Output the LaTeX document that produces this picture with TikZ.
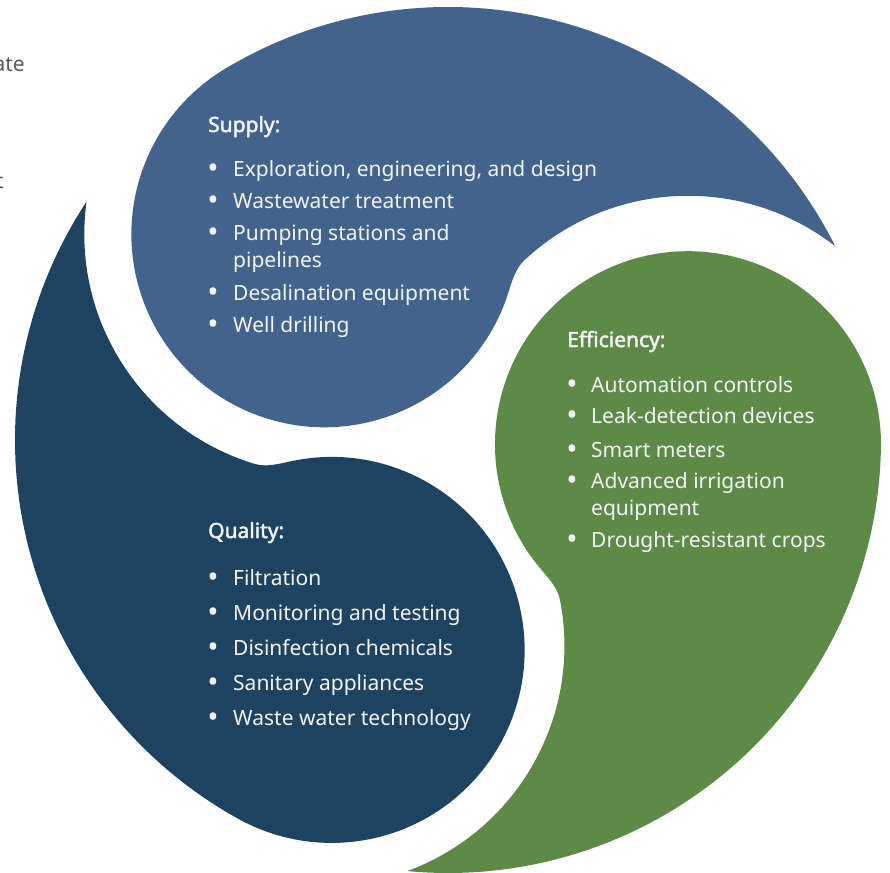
\documentclass[tikz,border=0pt]{standalone}
\usepackage{fontspec}
\setmainfont{Noto Sans}
\newfontfamily\headfont{Noto Sans}[FakeBold=2.2]
\usetikzlibrary{positioning}

\definecolor{supplyblue}{RGB}{66,99,140}
\definecolor{qualityblue}{RGB}{30,67,97}
\definecolor{efficiencygreen}{RGB}{94,138,71}
\definecolor{labelwhite}{RGB}{242,244,246}
\definecolor{pagegray}{RGB}{90,90,90}

\newcommand{\swirlpath}{(0:433pt) arc[start angle=0,end angle=-94.4,radius=433pt]
  arc[start angle=-68.8,end angle=12,radius=240pt]
  .. controls (112.05pt,-145.24pt) and (102.18pt,-135.72pt) .. (93.7pt,-125.86pt)
  arc[start angle=220.7,end angle=0,radius=193pt] -- cycle}

\begin{document}
\begin{tikzpicture}[x=1pt,y=-1pt,
  head/.style={anchor=base west,inner sep=0pt,text=labelwhite,font=\headfont\fontsize{21}{26}\selectfont},
  item/.style={anchor=base west,inner sep=0pt,text=labelwhite,font=\fontsize{21}{26}\selectfont},
  dot/.style={anchor=base,inner sep=0pt,text=labelwhite,font=\fontsize{30}{30}\selectfont},
  margin/.style={anchor=base east,inner sep=0pt,text=pagegray,font=\fontsize{21}{26}\selectfont}]
\useasboundingbox (0,0) rectangle (890,872);
\begin{scope}[shift={(448,440)}]
  \fill[supplyblue,rotate=121] \swirlpath;
  \fill[efficiencygreen,rotate=-1] \swirlpath;
  \fill[qualityblue,rotate=241] \swirlpath;
\end{scope}
\node[margin] (frag1) at (25,72) {ate};
\node[margin] (frag2) at (4,188) {t};

\node[head] (supply) at (208,132) {Supply:};
\foreach \y/\t [count=\i] in {176/{Exploration, engineering, and design},208/{Wastewater treatment},240/{Pumping stations and},300/{Desalination equipment},332/{Well drilling}}{
  \node[dot] (sdot\i) at (213,\y+2) {•};
  \node[item] (sitem\i) at (233,\y) {\t};
}
\node[item] (sitem3b) at (233,267) {pipelines};

\node[head] (efficiency) at (567,347) {Efficiency:};
\foreach \y/\t [count=\i] in {392/{Automation controls},423/{Leak-detection devices},457/{Smart meters},488/{Advanced irrigation},547/{Drought-resistant crops}}{
  \node[dot] (edot\i) at (572,\y+2) {•};
  \node[item] (eitem\i) at (591,\y) {\t};
}
\node[item] (eitem4b) at (591,515) {equipment};

\node[head] (quality) at (208,538) {Quality:};
\foreach \y/\t [count=\i] in {585/{Filtration},620/{Monitoring and testing},655/{Disinfection chemicals},690/{Sanitary appliances},725/{Waste water technology}}{
  \node[dot] (qdot\i) at (213,\y+2) {•};
  \node[item] (qitem\i) at (233,\y) {\t};
}
\end{tikzpicture}
\end{document}
